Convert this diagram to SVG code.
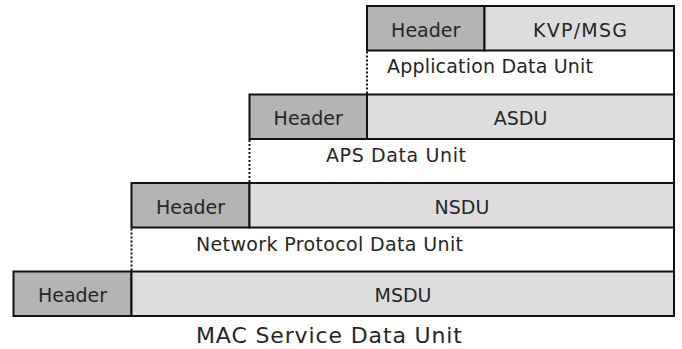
<svg xmlns="http://www.w3.org/2000/svg" width="682" height="349" viewBox="0 0 682 349">
  <style>
    .hdr { fill: #b4b4b4; stroke: #111; stroke-width: 2; }
    .pay { fill: #dddddd; stroke: #111; stroke-width: 2; }
    .edge { stroke: #111; stroke-width: 2; fill: none; }
    .dot { stroke: #111; stroke-width: 2; stroke-dasharray: 2 2; fill: none; }
    text { font-family: "DejaVu Sans", "Liberation Sans", sans-serif; fill: #262626; }
    .lbl { font-size: 19px; text-anchor: middle; }
    .unit { font-size: 19px; }
    .mac { font-size: 22px; }
  </style>
  <rect width="682" height="349" fill="#ffffff"/>

  <!-- Application layer -->
  <g id="adu-header">
    <rect class="hdr" x="367" y="6" width="117.5" height="44.5"/>
    <text class="lbl" x="425.7" y="36.5">Header</text>
  </g>
  <g id="adu-payload">
    <rect class="pay" x="484.5" y="6" width="189.5" height="44.5"/>
    <text class="lbl" x="580" y="36.5" textLength="94" lengthAdjust="spacing">KVP/MSG</text>
  </g>
  <g id="adu-label">
    <text class="unit" x="387" y="73" textLength="206" lengthAdjust="spacing">Application Data Unit</text>
  </g>

  <!-- APS layer -->
  <g id="aps-header">
    <rect class="hdr" x="249.5" y="94.5" width="117.5" height="44.5"/>
    <text class="lbl" x="308.2" y="125">Header</text>
  </g>
  <g id="aps-payload">
    <rect class="pay" x="367" y="94.5" width="307" height="44.5"/>
    <text class="lbl" x="520.5" y="125">ASDU</text>
  </g>
  <g id="aps-label">
    <text class="unit" x="326" y="161.5" textLength="140" lengthAdjust="spacing">APS Data Unit</text>
  </g>

  <!-- Network layer -->
  <g id="nwk-header">
    <rect class="hdr" x="131.5" y="183" width="118" height="44.5"/>
    <text class="lbl" x="190.5" y="213.5">Header</text>
  </g>
  <g id="nwk-payload">
    <rect class="pay" x="249.5" y="183" width="424.5" height="44.5"/>
    <text class="lbl" x="462" y="213.5">NSDU</text>
  </g>
  <g id="nwk-label">
    <text class="unit" x="196" y="250.5" textLength="267" lengthAdjust="spacing">Network Protocol Data Unit</text>
  </g>

  <!-- MAC layer -->
  <g id="mac-header">
    <rect class="hdr" x="13.5" y="271.5" width="118" height="44.5"/>
    <text class="lbl" x="72.5" y="302">Header</text>
  </g>
  <g id="mac-payload">
    <rect class="pay" x="131.5" y="271.5" width="542.5" height="44.5"/>
    <text class="lbl" x="403" y="302">MSDU</text>
  </g>
  <g id="mac-label">
    <text class="mac" x="196" y="342.5" textLength="266" lengthAdjust="spacing">MAC Service Data Unit</text>
  </g>

  <!-- Connectors: right frame between layers and dotted header boundaries -->
  <g id="connectors">
    <line class="edge" x1="674" y1="50.5" x2="674" y2="94.5"/>
    <line class="edge" x1="674" y1="139" x2="674" y2="183"/>
    <line class="edge" x1="674" y1="227.5" x2="674" y2="271.5"/>
    <line class="dot" x1="367" y1="51.5" x2="367" y2="93.5"/>
    <line class="dot" x1="249.5" y1="140" x2="249.5" y2="182"/>
    <line class="dot" x1="131.5" y1="228.5" x2="131.5" y2="270.5"/>
  </g>
</svg>
